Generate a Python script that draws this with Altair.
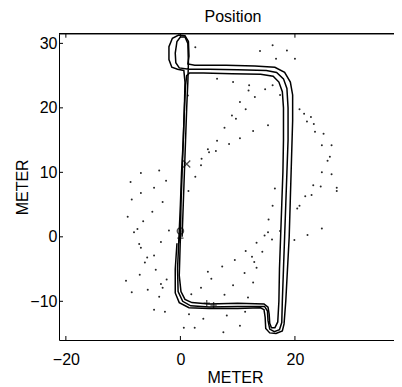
import altair as alt
import pandas as pd

# ---- trajectory laps (METER) ----
lap1_x = [0.0, 0.1, 0.3, 0.5, 0.7, 0.9, 1.1, 1.6, 4.0, 9.0, 14.0, 16.2, 17.2, 17.8, 18.0, 18.0, 17.9, 17.7, 17.5, 17.3, 17.2, 17.0, 16.5, 15.9, 15.6, 15.5, 15.3, 14.6, 10.0, 5.0, 2.0, 0.8, 0.1, -0.2, -0.1, 0.0]
lap1_y = [0.0, 5.0, 10.0, 15.0, 20.0, 23.5, 25.0, 25.4, 25.4, 25.3, 25.2, 24.9, 24.0, 22.5, 20.0, 15.0, 10.0, 5.0, 0.0, -5.0, -10.0, -13.2, -14.1, -14.1, -13.4, -12.0, -10.9, -10.4, -10.3, -10.4, -10.2, -9.7, -8.5, -6.0, -3.0, 0.0]

lap2_x = [0.3, 0.5, 0.7, 0.9, 1.1, 1.3, 1.4, 1.3, 0.8, 0.0, -0.6, -0.9, -0.8, -0.2, 1.5, 5.0, 10.0, 15.0, 16.8, 18.0, 18.6, 18.8, 18.8, 18.6, 18.4, 18.2, 18.0, 17.8, 17.7, 17.3, 16.4, 15.6, 15.3, 15.2, 14.7, 10.0, 5.0, 1.8, 0.4, -0.4, -0.5, -0.3, 0.0]
lap2_y = [0.0, 5.0, 10.0, 15.0, 20.0, 24.0, 27.0, 30.0, 31.0, 31.0, 30.3, 28.5, 27.0, 26.2, 26.0, 26.0, 25.9, 25.8, 25.5, 24.5, 23.0, 20.0, 15.0, 10.0, 5.0, 0.0, -5.0, -10.0, -13.3, -14.4, -14.7, -14.3, -13.0, -11.5, -10.8, -10.8, -10.9, -10.7, -10.0, -8.5, -5.0, -1.0, 0.9]

lap3_x = [-0.3, 0.0, 0.2, 0.5, 0.7, 0.8, 0.6, -0.5, -1.5, -2.0, -2.0, -1.4, -0.3, 0.8, 1.4, 1.5, 1.3, 2.5, 8.0, 13.0, 16.5, 18.2, 19.2, 19.6, 19.6, 19.4, 19.2, 19.0, 18.7, 18.4, 18.1, 17.8, 16.7, 15.6, 14.9, 14.8, 14.6, 14.0, 10.0, 5.0, 1.5, -0.2, -0.9, -0.9, -0.6]
lap3_y = [-1.0, 5.0, 10.0, 15.0, 20.0, 24.0, 25.8, 26.0, 26.3, 27.5, 29.5, 30.8, 31.3, 31.2, 30.3, 28.0, 26.8, 26.6, 26.6, 26.5, 26.3, 25.5, 24.0, 22.0, 18.0, 12.0, 6.0, 0.0, -5.0, -10.0, -13.5, -14.6, -15.0, -14.9, -14.2, -12.5, -11.3, -11.0, -11.1, -11.1, -11.0, -10.2, -8.7, -5.0, -1.0]

# ---- scattered position fixes ----
dots_x = [2.6, 13.9, 16.1, 18.6, 16.7, 20.0,
          6.4, 9.2, 12.0, 11.9, 14.8, 16.1, 13.0, 17.4, 1.3,
          10.4, 11.4, 9.0, 9.7, 15.3, 7.7, 12.7, 10.4, 6.4, 8.5, 4.8, 6.2, 5.0, 3.7, 3.6, 2.6,
          20.8, 21.6, 22.1, 22.8, 23.3, 23.5, 25.0, 24.7, 26.4, 26.1, 25.7, 24.7, 26.4, 23.2, 24.5, 27.3, 38.7,
          -6.9, -3.7, -8.7, -2.5, -4.6,
          -6.9, -8.5, -3.1, -4.9, -9.2, -6.5, -7.5, -8.1, -2.0, -7.2, -6.9, -3.4, -5.8, -4.6, -6.2, -4.3, -2.4,
          -7.1, -9.5, -3.4, -3.1, -5.7, -8.5, -3.7, -4.6, -2.7, 0.6,
          1.4, 16.5, 16.1, 15.4, 17.4, 15.3, 14.7, 13.3, 16.0, 14.3, 11.4, 12.5, 9.5, 12.9, 7.3, 13.3, 11.2,
          4.8, 5.4, 12.7, 3.6, 9.2, 1.9, 7.7, 11.8, 1.5, 4.0, 11.3, 8.1, 10.4, 2.5, 7.5,
          27.3, 21.8, 22.9, 20.8, 20.4, 24.7, 22.2, 19.9]
dots_y = [29.4, 28.8, 29.7, 28.9, 27.6, 27.6,
          24.5, 24.0, 23.5, 22.7, 22.9, 23.5, 21.7, 22.0, 21.9,
          20.9, 19.8, 18.8, 18.3, 17.3, 16.9, 16.4, 15.3, 14.9, 14.4, 13.6, 13.3, 13.1, 12.1, 11.1, 9.3,
          19.8, 19.1, 17.9, 18.6, 17.5, 16.3, 16.0, 14.2, 14.2, 12.4, 11.8, 10.0, 9.7, 8.0, 7.8, 7.6, 9.8,
          9.9, 10.3, 8.5, 8.7, 7.6,
          6.8, 5.8, 5.4, 3.9, 3.1, 2.4, 1.2, 0.7, 1.0, -1.1, -1.7, -0.8, -3.2, -2.9, -4.0, -5.1, -6.6,
          -5.9, -6.8, -7.3, -7.9, -8.2, -8.6, -9.3, -11.3, -11.6, -14.1,
          7.1, 7.5, 4.8, 2.7, 0.9, 0.7, 0.2, -0.9, -0.4, -2.3, -2.2, -3.1, -3.6, -3.9, -4.6, -4.8, -5.6,
          -5.4, -6.5, -7.1, -7.9, -7.5, -8.9, -9.0, -9.4, -12.0, -12.7, -11.6, -12.2, -13.8, -14.1, -14.8,
          7.1, 6.3, 6.5, 4.8, 4.4, 1.3, 0.3, -0.5]

# ---- event markers ----
mark_x = [1.1, 0.0, 0.0, 5.8, 4.6]
mark_y = [11.3, 0.9, -0.2, -10.6, -10.3]
mark_kind = ["x", "o", "+", "+", "+"]

x_ticks = [-20, 0, 20]
y_ticks = [-10, 0, 10, 20, 30]
x_domain = [-21.2, 37.3]
y_domain = [-16.0, 31.5]

W, H = 335, 306.3
FONT = "Liberation Sans"

rows = []
for lap, (xs, ys) in enumerate([(lap1_x, lap1_y), (lap2_x, lap2_y), (lap3_x, lap3_y)]):
    for i, (a, b) in enumerate(zip(xs, ys)):
        rows.append({"lap": lap, "seq": i, "x": a, "y": b})
track = pd.DataFrame(rows)
dots = pd.DataFrame({"x": dots_x, "y": dots_y})
marks = pd.DataFrame({"x": mark_x, "y": mark_y, "kind": mark_kind})
xt = pd.DataFrame({"x": x_ticks})
yt = pd.DataFrame({"y": y_ticks})

xsc = alt.Scale(domain=x_domain, nice=False, zero=False)
ysc = alt.Scale(domain=y_domain, nice=False, zero=False)
x_axis = alt.Axis(values=x_ticks, title="METER", labelPadding=11, titlePadding=2,
                  titleX=176, domain=True, domainColor="black")
y_axis = alt.Axis(values=y_ticks, title="METER", labelPadding=2, titlePadding=-1,
                  domain=True, domainColor="black")
X = alt.X("x:Q", scale=xsc, axis=x_axis)
Y = alt.Y("y:Q", scale=ysc, axis=y_axis)

lines = alt.Chart(track).mark_line(color="black", strokeWidth=1.5, clip=True).encode(
    x=X, y=Y, detail="lap:N", order="seq:Q")

pts = alt.Chart(dots).mark_circle(color="black", size=4, opacity=0.85, clip=True).encode(x=X, y=Y)

xm = alt.Chart(marks[marks.kind == "x"]).mark_point(
    shape="M-1,-1L1,1M-1,1L1,-1", filled=False, color="black", size=50, strokeWidth=1.3).encode(x=X, y=Y)
om = alt.Chart(marks[marks.kind == "o"]).mark_point(
    shape="circle", filled=False, color="black", size=40, strokeWidth=1.3).encode(x=X, y=Y)
pm = alt.Chart(marks[marks.kind == "+"]).mark_point(
    shape="M-1,0L1,0M0,-1L0,1", filled=False, color="black", size=40, strokeWidth=1.3).encode(x=X, y=Y)

xtb = alt.Chart(xt).mark_rule(color="black").encode(x=X, y=alt.value(H), y2=alt.value(H - 4))
xtt = alt.Chart(xt).mark_rule(color="black").encode(x=X, y=alt.value(0), y2=alt.value(4))
ytl = alt.Chart(yt).mark_rule(color="black").encode(y=Y, x=alt.value(0), x2=alt.value(4))
top = alt.Chart(xt).mark_rule(color="black", strokeWidth=1).encode(
    x=alt.value(0), x2=alt.value(W), y=alt.value(0))

chart = alt.layer(pts, lines, xm, om, pm, xtb, xtt, ytl, top).properties(
    width=W, height=H,
    autosize="none",
    background="white",
    padding={"left": 51, "top": 25.7, "right": 0, "bottom": 47},
    title=alt.TitleParams("Position", font=FONT, fontSize=16, fontWeight="normal",
                          color="black", baseline="alphabetic", offset=13, dx=6.5, dy=17.5),
).configure_view(stroke=None).configure_axis(
    grid=False, ticks=False,
    labelFont=FONT, labelFontSize=16, labelColor="black",
    titleFont=FONT, titleFontSize=16, titleFontWeight="normal", titleColor="black",
)

chart.save("out.html", embed_options={"renderer": "svg", "actions": False})
